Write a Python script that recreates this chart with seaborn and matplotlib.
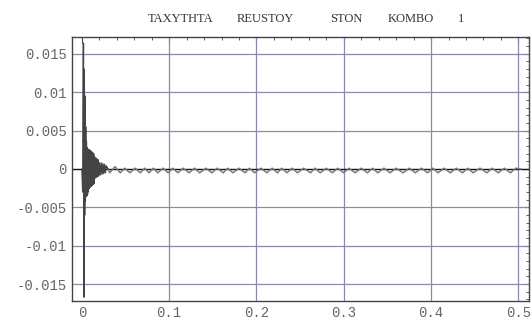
import pandas as pd
import matplotlib.pyplot as plt
import seaborn as sns
from matplotlib.ticker import MultipleLocator

# data
burst_t = [
    0.0000, 0.0010, 0.0018, 0.0023, 0.0028, 0.0032, 0.0036, 0.0040, 0.0044, 0.0048,
    0.0052, 0.0056, 0.0060, 0.0064, 0.0068, 0.0072, 0.0076, 0.0080, 0.0085, 0.0090,
    0.0095, 0.0100, 0.0105, 0.0110, 0.0115, 0.0120, 0.0125, 0.0130, 0.0135, 0.0140,
    0.0145, 0.0150, 0.0155, 0.0160, 0.0165, 0.0170, 0.0175, 0.0180, 0.0185, 0.0190,
    0.0200, 0.0210, 0.0220, 0.0230, 0.0240, 0.0250, 0.0260, 0.0270, 0.0280, 0.0300,
]
burst_v = [
    0.0000, -0.0030, 0.0164, -0.0167, 0.0130, -0.0060, 0.0095, -0.0042, 0.0055, -0.0036,
    0.0036, -0.0035, 0.0028, -0.0034, 0.0026, -0.0030, 0.0025, -0.0026, 0.0025, -0.0024,
    0.0024, -0.0023, 0.0023, -0.0022, 0.0022, -0.0021, 0.0021, -0.0020, 0.0020, -0.0019,
    0.0016, -0.0012, 0.0014, -0.0011, 0.0014, -0.0010, 0.0013, -0.0010, 0.0012, -0.0009,
    0.0008, -0.0008, 0.0008, -0.0007, 0.0007, -0.0006, 0.0006, -0.0005, 0.0004, 0.0000,
]

# small ripple after the burst: dips and crests
dip_t = [0.032, 0.044, 0.055, 0.067, 0.077, 0.087, 0.099, 0.110, 0.123, 0.135,
         0.149, 0.162, 0.173, 0.187, 0.198, 0.212, 0.224, 0.235, 0.247, 0.262,
         0.273, 0.287, 0.300, 0.313, 0.327, 0.339, 0.353, 0.368, 0.382, 0.396,
         0.408, 0.422, 0.436, 0.448, 0.464, 0.477, 0.491]
dip_v = [-0.0005] * len(dip_t)
crest_t = [0.038, 0.049, 0.061, 0.072, 0.082, 0.093, 0.104, 0.116, 0.129, 0.142,
           0.155, 0.167, 0.180, 0.192, 0.205, 0.218, 0.229, 0.241, 0.254, 0.267,
           0.280, 0.293, 0.306, 0.320, 0.333, 0.346, 0.360, 0.375, 0.389, 0.402,
           0.415, 0.429, 0.442, 0.456, 0.470, 0.484, 0.497]
crest_v = [0.0003] + [0.0001] * (len(crest_t) - 1)

title_words = ["TAXYTHTA", "REUSTOY", "STON", "KOMBO", "1"]
title_x = [148, 237, 330, 388, 458]

sns.set_theme(style="white")
plt.rcParams["font.family"] = ["Liberation Mono", "DejaVu Sans Mono"]

burst = pd.DataFrame({"t": burst_t, "v": burst_v})
ripple = pd.DataFrame({"t": [0.030] + dip_t + crest_t + [0.503],
                       "v": [0.0] + dip_v + crest_v + [0.0]}).sort_values("t")

fig = plt.figure(figsize=(5.32, 3.24), dpi=100)
ax = fig.add_axes([0.135, 0.071, 0.860, 0.815])

grid_c = "#8a8ab0"
for gx in [0.1, 0.2, 0.3, 0.4, 0.5]:
    ax.axvline(gx, color=grid_c, lw=0.9, zorder=1)
for gy in [-0.015, -0.01, -0.005, 0.005, 0.01, 0.015]:
    ax.axhline(gy, color=grid_c, lw=0.9, zorder=1)

ax.axhline(0, color="#111111", lw=1.0, zorder=2)
sns.lineplot(data=ripple, x="t", y="v", ax=ax, color="#7a7a7a", lw=1.1,
             sort=False, zorder=3)
sns.lineplot(data=burst, x="t", y="v", ax=ax, color="#444444", lw=1.0,
             sort=False, zorder=4)

ax.set_xlim(-0.0115, 0.5126)
ax.set_ylim(-0.0172, 0.0172)
ax.set_xlabel("")
ax.set_ylabel("")

ax.set_xticks([0, 0.1, 0.2, 0.3, 0.4, 0.5])
ax.set_xticklabels(["0", "0.1", "0.2", "0.3", "0.4", "0.5"])
ax.set_yticks([-0.015, -0.01, -0.005, 0, 0.005, 0.01, 0.015])
ax.set_yticklabels(["-0.015", "-0.01", "-0.005", "0", "0.005", "0.01", "0.015"])
ax.xaxis.set_minor_locator(MultipleLocator(0.02))
ax.yaxis.set_minor_locator(MultipleLocator(0.001))
ax.tick_params(which="both", direction="in", top=True, right=True,
               colors="#444444", labelcolor="#666666", labelsize=10)
ax.tick_params(which="major", length=4, width=0.8)
ax.tick_params(which="minor", length=2, width=0.6)
for s in ax.spines.values():
    s.set_color("#444444")
    s.set_linewidth(1.0)

for w, px in zip(title_words, title_x):
    fig.text(px / 532, 1 - 19 / 324, w, family="Liberation Serif", fontsize=9,
             color="#333333", ha="left", va="center")

fig.savefig("out.png", dpi=100)
